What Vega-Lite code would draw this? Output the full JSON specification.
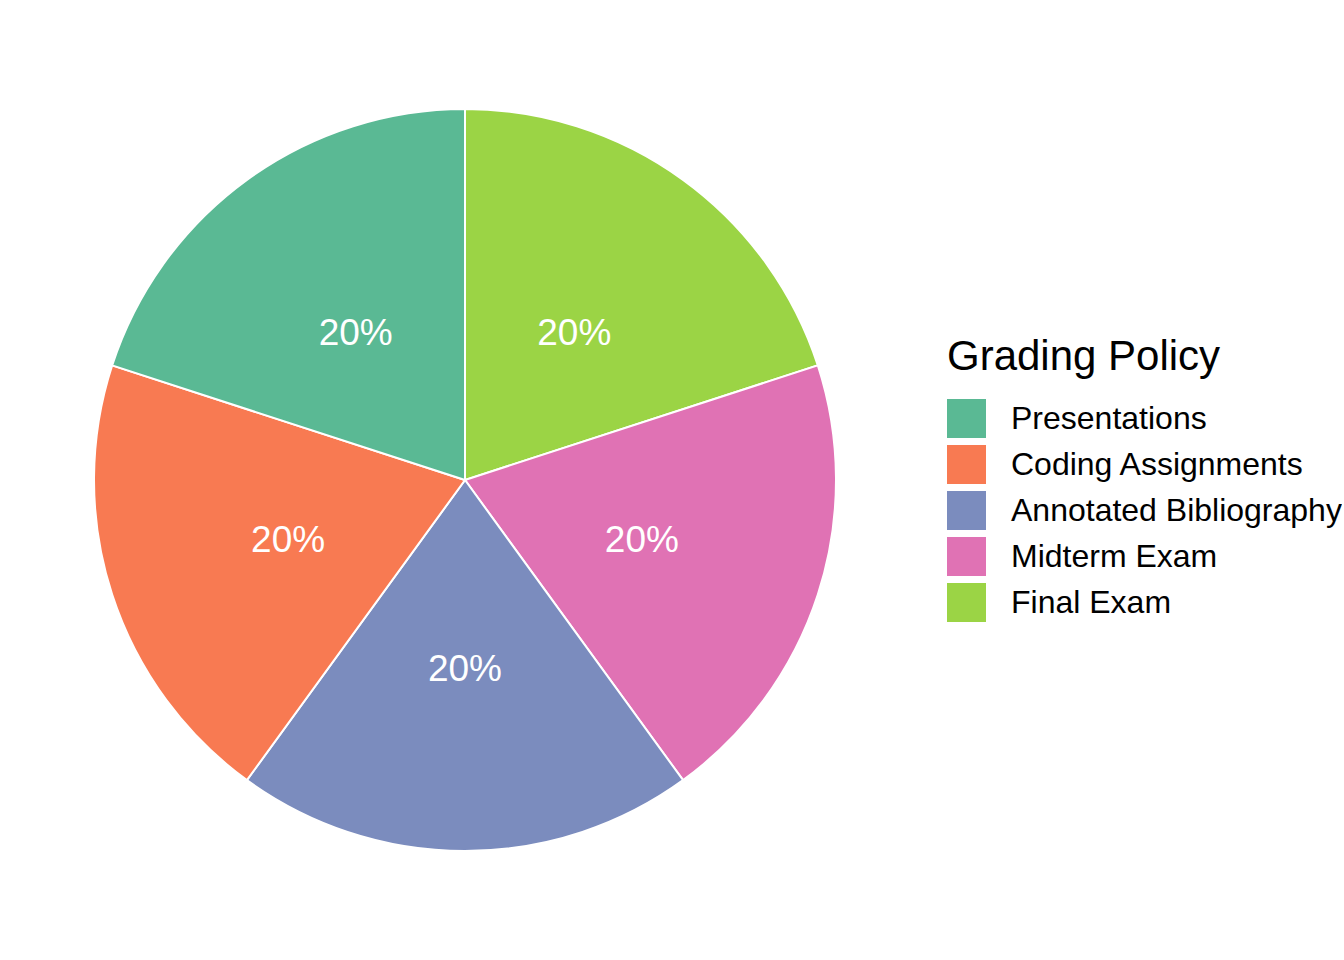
{
  "$schema": "https://vega.github.io/schema/vega-lite/v6.json",
  "width": 930,
  "height": 960,
  "padding": 0,
  "autosize": {"type": "pad"},
  "background": "white",
  "config": {"view": {"stroke": null}, "font": "Liberation Sans"},
  "data": {
    "values": [
      {"category": "Final Exam", "value": 20, "ord": 1, "label": "20%"},
      {"category": "Midterm Exam", "value": 20, "ord": 2, "label": "20%"},
      {"category": "Annotated Bibliography", "value": 20, "ord": 3, "label": "20%"},
      {"category": "Coding Assignments", "value": 20, "ord": 4, "label": "20%"},
      {"category": "Presentations", "value": 20, "ord": 5, "label": "20%"}
    ]
  },
  "encoding": {
    "theta": {"field": "value", "type": "quantitative", "stack": true},
    "order": {"field": "ord", "type": "quantitative"}
  },
  "layer": [
    {
      "mark": {"type": "arc", "radius": 371, "stroke": "white", "strokeWidth": 2},
      "encoding": {
        "color": {
          "field": "category",
          "type": "nominal",
          "title": "Grading Policy",
          "scale": {
            "domain": ["Presentations", "Coding Assignments", "Annotated Bibliography", "Midterm Exam", "Final Exam"],
            "range": ["#5ab994", "#f87a52", "#7b8cbe", "#e072b4", "#9bd445"]
          },
          "legend": {
            "orient": "none",
            "legendX": 947,
            "legendY": 337,
            "titleFontSize": 42,
            "titleFontWeight": "normal",
            "titleColor": "black",
            "titleLimit": 1000,
            "titlePadding": 20,
            "labelFontSize": 32,
            "labelColor": "black",
            "labelOffset": 25,
            "symbolType": "square",
            "symbolSize": 1521,
            "symbolStrokeWidth": 0,
            "symbolOpacity": 1,
            "rowPadding": 7,
            "labelLimit": 500
          }
        }
      }
    },
    {
      "mark": {"type": "text", "radius": 186, "fontSize": 37, "color": "white", "baseline": "middle", "align": "center", "dy": 4},
      "encoding": {
        "text": {"field": "label", "type": "nominal"}
      }
    }
  ]
}
